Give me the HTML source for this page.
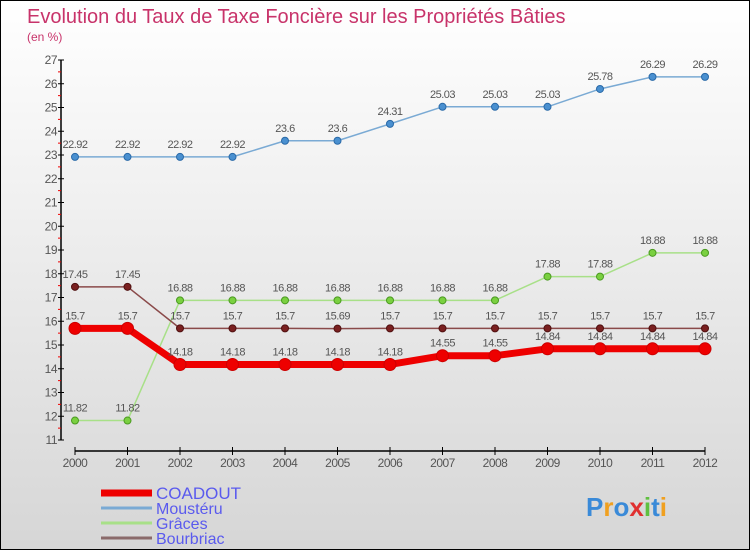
<!DOCTYPE html>
<html><head><meta charset="utf-8"><style>
body{margin:0}
#wrap{position:relative;width:748px;height:548px;border:1px solid #000;background:linear-gradient(#fff,#d6d6d6);font-family:"Liberation Sans",sans-serif;overflow:hidden}
</style></head><body>
<div id="wrap">
<svg id="chart" width="748" height="548" xmlns="http://www.w3.org/2000/svg"></svg>
</div>
<script>
const years=[2000,2001,2002,2003,2004,2005,2006,2007,2008,2009,2010,2011,2012];
const coadout=[15.7,15.7,14.18,14.18,14.18,14.18,14.18,14.55,14.55,14.84,14.84,14.84,14.84];
const moustéru=[22.92,22.92,22.92,22.92,23.6,23.6,24.31,25.03,25.03,25.03,25.78,26.29,26.29];
const graces=[11.82,11.82,16.88,16.88,16.88,16.88,16.88,16.88,16.88,17.88,17.88,18.88,18.88];
const bourbriac=[17.45,17.45,15.7,15.7,15.7,15.69,15.7,15.7,15.7,15.7,15.7,15.7,15.7];
const yTicks=[11,12,13,14,15,16,17,18,19,20,21,22,23,24,25,26,27];
const NS="http://www.w3.org/2000/svg";
const svg=document.getElementById('chart');
const X=i=>74+i*52.5;
const Y=v=>59+(27-v)*23.75;
function el(t,a,p){const e=document.createElementNS(NS,t);for(const k in a)e.setAttribute(k,a[k]);(p||svg).appendChild(e);return e;}
let t=el('text',{x:26,y:22,'font-size':20,fill:'#c8336a'});t.textContent='Evolution du Taux de Taxe Foncière sur les Propriétés Bâties';

t=el('text',{x:26,y:40,'font-size':12,fill:'#c8336a'});t.textContent='(en %)';

let a=el('line',{x1:60,y1:Y(27),x2:60,y2:Y(11),stroke:'#000','stroke-width':1.5});

yTicks.forEach(v=>{el('line',{x1:57,y1:Y(v),x2:63,y2:Y(v),stroke:'#000'});
 if(v<27)el('line',{x1:57,y1:Y(v+0.5),x2:60,y2:Y(v+0.5),stroke:'#e00'});
 const tx=el('text',{x:56,y:Y(v)+4,'font-size':12,fill:'#555','text-anchor':'end','letter-spacing':'-0.5'});tx.textContent=v;
 });
a=el('line',{x1:X(0),y1:450,x2:X(12),y2:450,stroke:'#000','stroke-width':1.5});

years.forEach((yr,i)=>{el('line',{x1:X(i),y1:446,x2:X(i),y2:454,stroke:'#000'});
 const tx=el('text',{x:X(i),y:466,'font-size':12,fill:'#555','text-anchor':'middle','letter-spacing':'-0.5'});tx.textContent=yr;
 });
function series(name,data,color,w,r,dot,dotStroke){
 const g=el('g',{});
 el('polyline',{points:data.map((v,i)=>X(i)+','+Y(v)).join(' '),fill:'none',stroke:color,'stroke-width':w,'stroke-linejoin':'round'},g);
 data.forEach((v,i)=>{const c=el('circle',{cx:X(i),cy:Y(v),r:r,fill:dot,stroke:dotStroke,'stroke-width':1},g);
  
  const tx=el('text',{x:X(i),y:Y(v)-9,'font-size':11,fill:'#555','text-anchor':'middle','letter-spacing':'-0.5'},g);tx.textContent=v;
  });
}
series('mousteru',moustéru,'#7aaad4',1.5,3.5,'#4a90d0','#2a6aa8');
series('graces',graces,'#a8e088',1.5,3.5,'#7ad040','#4a9a20');
series('bourbriac',bourbriac,'#8a4a4a',1.5,3.5,'#7a2020','#501010');
series('coadout',coadout,'#ee0000',7,6,'#ee0000','#cc0000');
const leg=[['COADOUT','#ee0000',7],['Moustéru','#7aaad4',3],['Grâces','#a8e088',3],['Bourbriac','#8a6a6a',3]];
leg.forEach((l,i)=>{const y=492+i*15;const g=el('g',{});
 el('line',{x1:100,y1:y,x2:151,y2:y,stroke:l[1],'stroke-width':l[2]},g);
 const tx=el('text',{x:155,y:y+6,'font-size':i==0?17:16,fill:'#5a5aee'},g);tx.textContent=l[0];});
const lg=el('text',{x:585,y:515,'font-size':26,'font-weight':'bold'});
[['P','#3a8ad8'],['r','#f0a020'],['o','#3a8ad8'],['x','#e03030'],['i','#60c040'],['t','#3a8ad8'],['i','#f0a020']].forEach(c=>{const s=el('tspan',{fill:c[1]},lg);s.textContent=c[0];});
</script>
</body></html>
